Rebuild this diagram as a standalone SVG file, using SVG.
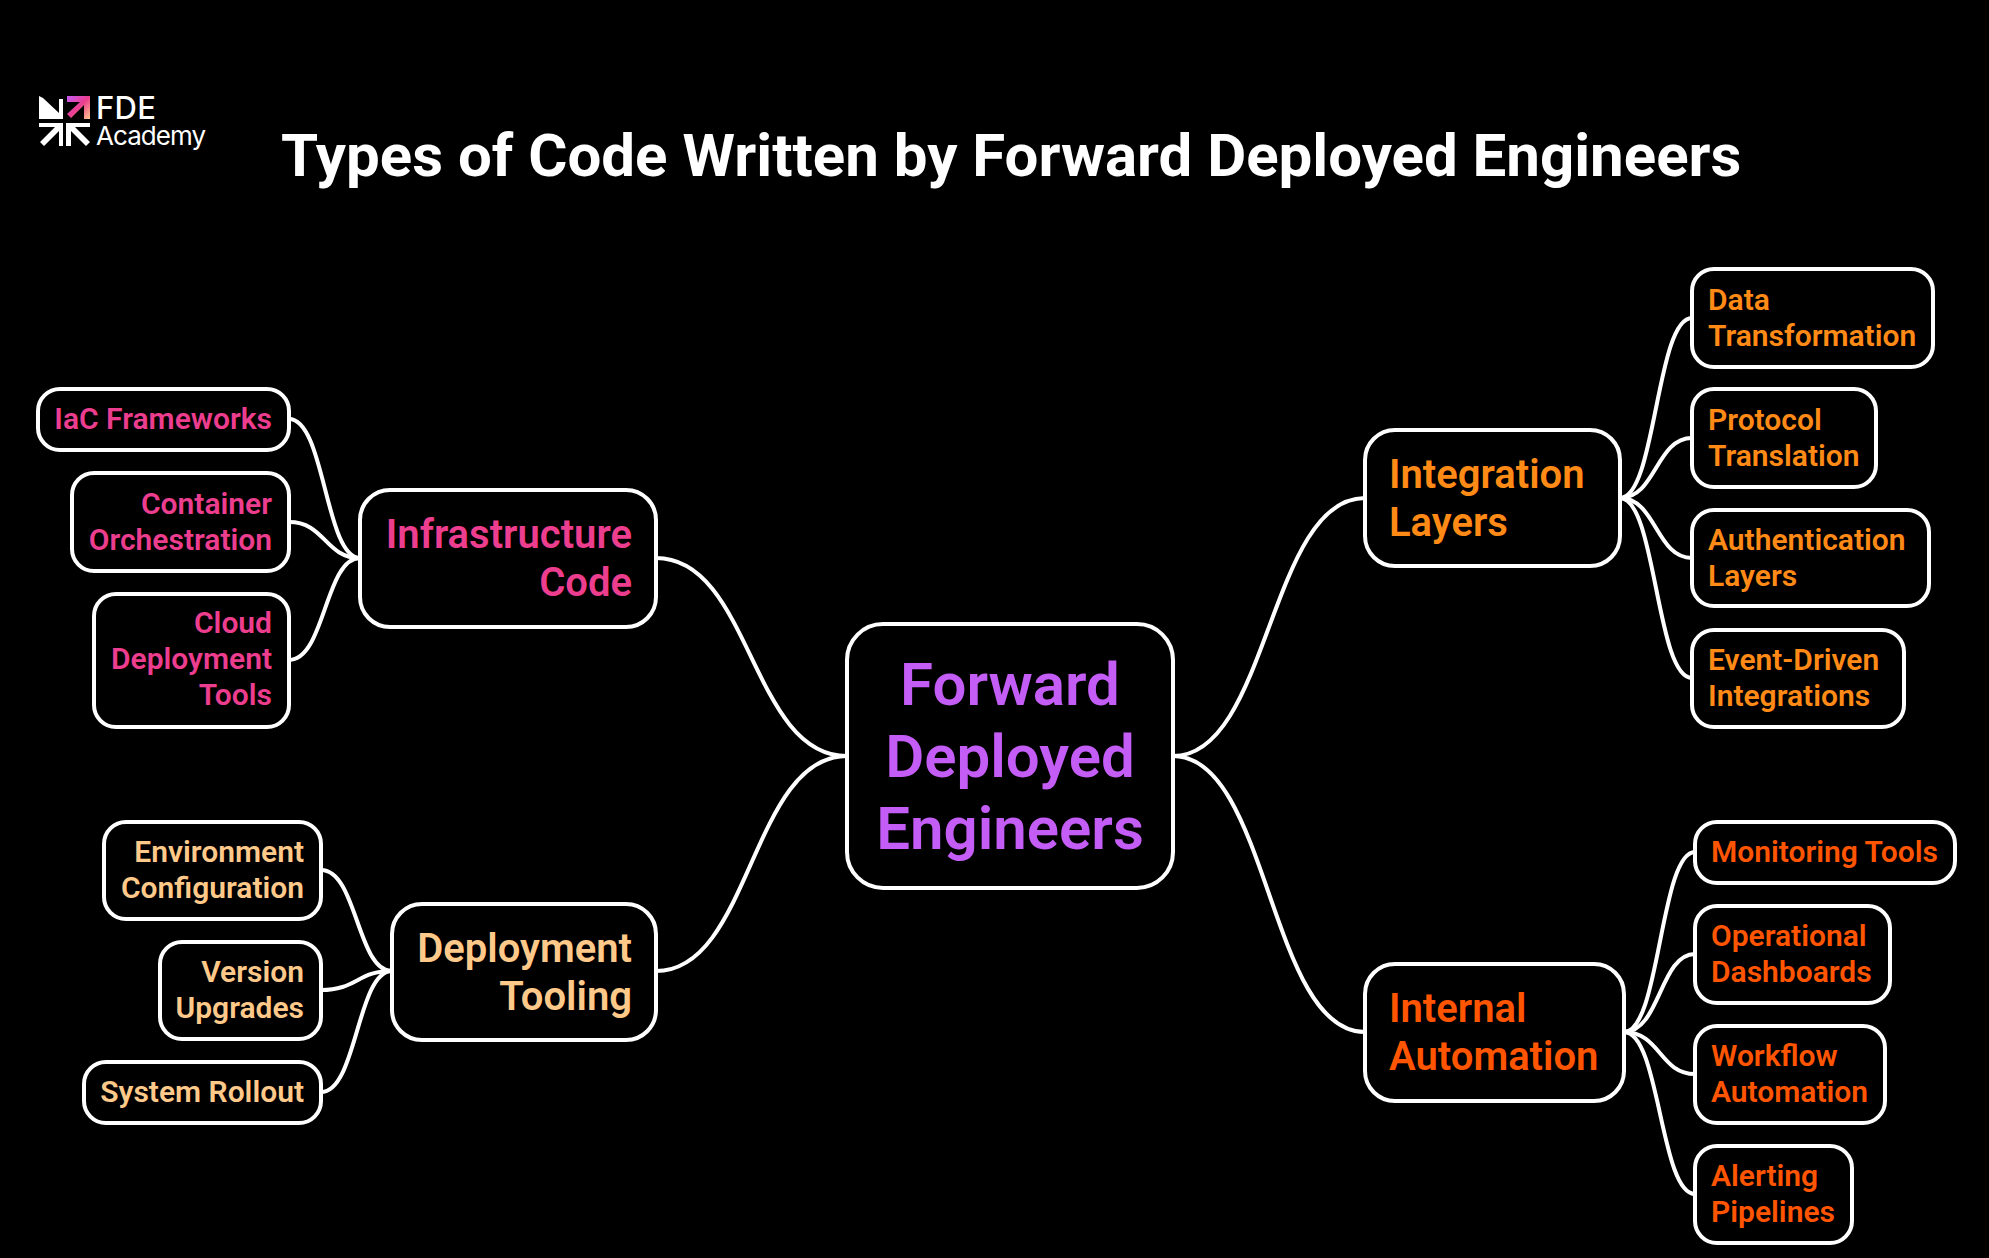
<svg xmlns="http://www.w3.org/2000/svg" width="1989" height="1258" viewBox="0 0 1989 1258">
<defs>
<linearGradient id="lg" x1="0" y1="0" x2="1" y2="1"><stop offset="0" stop-color="#c45cf6"/><stop offset="0.5" stop-color="#ec3d8e"/><stop offset="1" stop-color="#ffc98a"/></linearGradient>
</defs>
<style>
text{font-family:Roboto,"Liberation Sans",sans-serif;font-weight:600}
.box{fill:#000;stroke:#fff;stroke-width:4}
.leaf{font-size:30px}
.branch{font-size:40px}
.root{font-size:60px;text-anchor:middle;fill:#c45cf6}
.e{text-anchor:end}
.pink{fill:#ec3d8e}.orange{fill:#ff8a16}.deep{fill:#ff5500}.peach{fill:#ffc98a}
#connectors path{fill:none;stroke:#fff;stroke-width:4}
</style>
<rect width="1989" height="1258" fill="#000"/>
<g id="logo">
<g fill="#fff"><path d="M39 96L43 98V98L59 113V99H63V119H39Z"/><path d="M39 123H63V146H59V131L44 146L40 142L55 127H39Z"/><path d="M66 123H90V127H75L90 142L86 146L71 131V146H66Z"/></g>
<path d="M67 96H90V119H84V105L71 118L67 114L80 102H67Z" fill="url(#lg)"/>
<text x="96" y="119" font-size="31" fill="#fff" style="font-family:Inter,sans-serif;font-weight:500" textLength="60">FDE</text>
<text x="96" y="145" font-size="26" fill="#fff" style="font-family:Inter,sans-serif;font-weight:400" textLength="110">Academy</text>
</g>
<text id="title" x="281" y="176" font-size="60" fill="#fff" style="font-weight:700">Types of Code Written by Forward Deployed Engineers</text>
<g id="connectors">
<path d="M1173 756C1269 756 1269 498 1365 498"/>
<path d="M1173 756C1269 756 1269 1032 1365 1032"/>
<path d="M847 756C751 756 751 558 656 558"/>
<path d="M847 756C751 756 751 971 656 971"/>
<path d="M1620 498C1656 498 1656 318 1692 318"/>
<path d="M1620 498C1656 498 1656 438 1692 438"/>
<path d="M1620 498C1656 498 1656 558 1692 558"/>
<path d="M1620 498C1656 498 1656 678 1692 678"/>
<path d="M1624 1032C1660 1032 1660 852 1695 852"/>
<path d="M1624 1032C1660 1032 1660 954 1695 954"/>
<path d="M1624 1032C1660 1032 1660 1074 1695 1074"/>
<path d="M1624 1032C1660 1032 1660 1194 1695 1194"/>
<path d="M360 558C325 558 325 419 289 419"/>
<path d="M360 558C325 558 325 522 289 522"/>
<path d="M360 558C325 558 325 660 289 660"/>
<path d="M392 971C357 971 357 870 321 870"/>
<path d="M392 971C357 971 357 990 321 990"/>
<path d="M392 971C357 971 357 1092 321 1092"/>
</g>
<g id="root"><rect class="box" x="847" y="624" width="326" height="264" rx="36"/><text class="root" x="1010" y="705">Forward</text><text class="root" x="1010" y="777">Deployed</text><text class="root" x="1010" y="849">Engineers</text></g>
<g id="integration"><rect class="box" x="1365" y="430" width="255" height="136" rx="30"/><text class="branch orange" x="1389" y="488">Integration</text><text class="branch orange" x="1389" y="536">Layers</text></g>
<g id="internal"><rect class="box" x="1365" y="964" width="259" height="137" rx="30"/><text class="branch deep" x="1389" y="1022">Internal</text><text class="branch deep" x="1389" y="1070">Automation</text></g>
<g id="infra"><rect class="box" x="360" y="490" width="296" height="137" rx="30"/><text class="branch pink e" x="632" y="548">Infrastructure</text><text class="branch pink e" x="632" y="596">Code</text></g>
<g id="deploy"><rect class="box" x="392" y="904" width="264" height="136" rx="30"/><text class="branch peach e" x="632" y="962">Deployment</text><text class="branch peach e" x="632" y="1010">Tooling</text></g>
<g id="data"><rect class="box" x="1692" y="269" width="241" height="98" rx="22"/><text class="leaf orange" x="1708" y="310">Data</text><text class="leaf orange" x="1708" y="346">Transformation</text></g>
<g id="protocol"><rect class="box" x="1692" y="389" width="184" height="98" rx="22"/><text class="leaf orange" x="1708" y="430">Protocol</text><text class="leaf orange" x="1708" y="466">Translation</text></g>
<g id="auth"><rect class="box" x="1692" y="510" width="237" height="96" rx="22"/><text class="leaf orange" x="1708" y="550">Authentication</text><text class="leaf orange" x="1708" y="586">Layers</text></g>
<g id="event"><rect class="box" x="1692" y="630" width="212" height="97" rx="22"/><text class="leaf orange" x="1708" y="670">Event-Driven</text><text class="leaf orange" x="1708" y="706">Integrations</text></g>
<g id="monitoring"><rect class="box" x="1695" y="822" width="260" height="61" rx="22"/><text class="leaf deep" x="1711" y="862">Monitoring Tools</text></g>
<g id="operational"><rect class="box" x="1695" y="906" width="195" height="97" rx="22"/><text class="leaf deep" x="1711" y="946">Operational</text><text class="leaf deep" x="1711" y="982">Dashboards</text></g>
<g id="workflow"><rect class="box" x="1695" y="1026" width="190" height="97" rx="22"/><text class="leaf deep" x="1711" y="1066">Workflow</text><text class="leaf deep" x="1711" y="1102">Automation</text></g>
<g id="alerting"><rect class="box" x="1695" y="1146" width="157" height="97" rx="22"/><text class="leaf deep" x="1711" y="1186">Alerting</text><text class="leaf deep" x="1711" y="1222">Pipelines</text></g>
<g id="iac"><rect class="box" x="38" y="389" width="251" height="61" rx="22"/><text class="leaf pink e" x="272" y="429">IaC Frameworks</text></g>
<g id="container"><rect class="box" x="72" y="473" width="217" height="98" rx="22"/><text class="leaf pink e" x="272" y="514">Container</text><text class="leaf pink e" x="272" y="550">Orchestration</text></g>
<g id="cloud"><rect class="box" x="94" y="594" width="195" height="133" rx="22"/><text class="leaf pink e" x="272" y="633">Cloud</text><text class="leaf pink e" x="272" y="669">Deployment</text><text class="leaf pink e" x="272" y="705">Tools</text></g>
<g id="env"><rect class="box" x="104" y="822" width="217" height="97" rx="22"/><text class="leaf peach e" x="304" y="862">Environment</text><text class="leaf peach e" x="304" y="898">Configuration</text></g>
<g id="version"><rect class="box" x="160" y="942" width="161" height="97" rx="22"/><text class="leaf peach e" x="304" y="982">Version</text><text class="leaf peach e" x="304" y="1018">Upgrades</text></g>
<g id="system"><rect class="box" x="84" y="1062" width="237" height="61" rx="22"/><text class="leaf peach e" x="304" y="1102">System Rollout</text></g>
</svg>
